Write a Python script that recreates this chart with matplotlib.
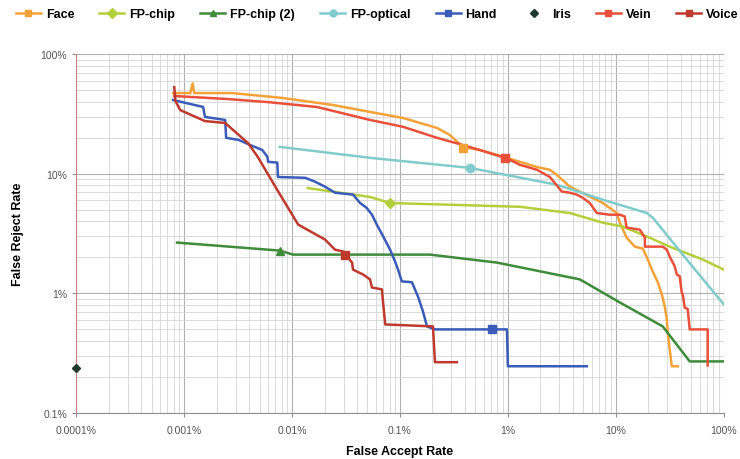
import matplotlib
matplotlib.use("Agg")
import matplotlib.pyplot as plt
from matplotlib.ticker import LogLocator, FixedLocator, FuncFormatter, NullFormatter

plt.rcParams['font.family'] = ['Liberation Sans', 'DejaVu Sans']

# values in percent
x_ticks = [0.0001, 0.001, 0.01, 0.1, 1, 10, 100]
y_ticks = [0.1, 1, 10, 100]

face_far = [0.00079, 0.00114, 0.0012, 0.00124, 0.0028, 0.0083, 0.024, 0.0528, 0.107, 0.22,
            0.29, 0.383, 0.55, 0.90, 1.86, 2.45, 2.84, 3.75, 7.59, 10.2,
            10.9, 12.6, 15.0, 17.8, 19.8, 22.0, 24.5, 26.7, 28.4, 29.7,
            30.3, 31.6, 33.0, 37.5]
face_frr = [47.3, 47.3, 57, 47.3, 47.3, 43, 37.6, 32.9, 29.3, 24.2,
            21.1, 16.8, 15.8, 13.9, 11.4, 10.8, 9.8, 7.8, 5.7, 4.7,
            3.9, 2.93, 2.46, 2.37, 1.92, 1.52, 1.24, 0.98, 0.78, 0.61,
            0.47, 0.34, 0.246, 0.246]

fpchip_far = [0.014, 0.0528, 0.081, 1.29, 3.75, 7.59, 11.6, 19.4, 31.6, 64, 100]
fpchip_frr = [7.6, 6.4, 5.7, 5.3, 4.7, 3.9, 3.62, 2.99, 2.46, 1.92, 1.58]

fpchip2_far = [0.00086, 0.0077, 0.0102, 0.19, 0.79, 4.64, 10.9, 27.2, 48.4, 100]
fpchip2_frr = [2.66, 2.28, 2.11, 2.11, 1.81, 1.31, 0.84, 0.53, 0.27, 0.27]

fpopt_far = [0.0077, 0.0528, 0.445, 2.84, 7.59, 19.4, 22.0, 45.4, 100]
fpopt_frr = [16.8, 13.6, 11.2, 8.1, 6.07, 4.7, 4.3, 1.92, 0.81]

hand_far = [0.00079, 0.0015, 0.00156, 0.0024, 0.00245, 0.0032, 0.0041, 0.0053, 0.0059, 0.006,
            0.0073, 0.0074, 0.0132, 0.0163, 0.0202, 0.025, 0.0367, 0.0427, 0.049, 0.055,
            0.061, 0.070, 0.081, 0.090, 0.096, 0.104, 0.129, 0.147, 0.163, 0.178,
            0.211, 0.98, 1.0, 5.38]
hand_frr = [41.4, 36.2, 29.9, 28.2, 20.0, 19.2, 17.4, 15.8, 13.9, 12.6,
            12.4, 9.4, 9.26, 8.6, 7.8, 6.95, 6.7, 5.7, 5.2, 4.55,
            3.76, 2.99, 2.32, 1.85, 1.58, 1.26, 1.24, 0.94, 0.71, 0.53,
            0.50, 0.50, 0.246, 0.246]

iris_far = [0.0001]
iris_frr = [0.24]

vein_far = [0.00081, 0.0025, 0.0059, 0.017, 0.0528, 0.107, 0.22, 0.383, 0.55, 0.94,
            1.04, 1.29, 1.86, 2.45, 3.16, 3.75, 4.35, 4.94, 5.74, 6.67,
            8.8, 10.9, 12.1, 12.6, 16.7, 18.6, 18.6, 27.2, 29.7, 31.6,
            35.2, 36.7, 39.1, 40.8, 41.7, 43.5, 46.4, 48.4, 71, 71]
vein_frr = [44.7, 42.2, 39.8, 36.2, 28.2, 24.7, 20, 17.4, 15.8, 13.6,
            13.1, 11.9, 10.8, 9.4, 7.1, 6.95, 6.7, 6.3, 5.7, 4.7,
            4.55, 4.55, 4.4, 3.55, 3.41, 2.93, 2.46, 2.46, 2.32, 2.03,
            1.68, 1.44, 1.39, 1.02, 0.98, 0.76, 0.74, 0.50, 0.50, 0.25]

voice_far = [0.00081, 0.00083, 0.00092, 0.00156, 0.0024, 0.0039, 0.0048, 0.0070, 0.0114, 0.0202,
             0.025, 0.0297, 0.0323, 0.036, 0.0367, 0.0454, 0.0528, 0.055, 0.068, 0.070,
             0.073, 0.202, 0.211, 0.337]
voice_frr = [53, 40.6, 34.1, 27.6, 26.6, 18.1, 13.9, 7.8, 3.76, 2.82,
             2.32, 2.24, 2.03, 1.81, 1.58, 1.44, 1.31, 1.12, 1.08, 0.81,
             0.55, 0.53, 0.266, 0.266]

# one highlighted marker per curve: (far, frr)
face_mark = (0.383, 16.5)
fpchip_mark = (0.081, 5.7)
fpchip2_mark = (0.0077, 2.28)
fpopt_mark = (0.445, 11.2)
hand_mark = (0.71, 0.50)
vein_mark = (0.94, 13.6)
voice_mark = (0.031, 2.11)

series = [
    ("Face", face_far, face_frr, face_mark, "#f4a238", "s"),
    ("FP-chip", fpchip_far, fpchip_frr, fpchip_mark, "#b4cf3c", "D"),
    ("FP-chip (2)", fpchip2_far, fpchip2_frr, fpchip2_mark, "#3e8c3a", "^"),
    ("FP-optical", fpopt_far, fpopt_frr, fpopt_mark, "#80cccc", "o"),
    ("Hand", hand_far, hand_frr, hand_mark, "#3a5cb8", "s"),
    ("Iris", iris_far, iris_frr, None, "#1f3a2c", "D"),
    ("Vein", vein_far, vein_frr, vein_mark, "#e8503a", "s"),
    ("Voice", voice_far, voice_frr, voice_mark, "#be3a2e", "s"),
]

fig = plt.figure(figsize=(7.4, 4.6), dpi=100)
ax = fig.add_axes([0.103, 0.10, 0.875, 0.78])

handles = []
for name, xs, ys, mark, col, m in series:
    if name == "Iris":
        ax.plot(xs, ys, linestyle="none", marker=m, ms=4.5, color=col, zorder=5, clip_on=False)
        h, = ax.plot([], [], linestyle="none", marker=m, ms=4, color=col)
    else:
        ax.plot(xs, ys, color=col, lw=1.8, zorder=3)
        ms = 5 if m == "D" else 6
        ax.plot([mark[0]], [mark[1]], linestyle="none", marker=m, ms=ms, color=col,
                markeredgecolor=col, zorder=4)
        h, = ax.plot([], [], color=col, lw=1.8, marker=m, ms=5)
    handles.append((h, name))

ax.set_xscale("log")
ax.set_yscale("log")
ax.set_xlim(1e-4, 100)
ax.set_ylim(0.1, 100)

pct = FuncFormatter(lambda v, p: f"{v:g}%")
ax.xaxis.set_major_locator(FixedLocator(x_ticks))
ax.yaxis.set_major_locator(FixedLocator(y_ticks))
ax.xaxis.set_minor_locator(LogLocator(base=10, subs=range(2, 10), numticks=12))
ax.yaxis.set_minor_locator(LogLocator(base=10, subs=range(2, 10), numticks=12))
ax.xaxis.set_major_formatter(pct)
ax.yaxis.set_major_formatter(pct)
ax.xaxis.set_minor_formatter(NullFormatter())
ax.yaxis.set_minor_formatter(NullFormatter())

ax.grid(True, which="major", color="#b0b0b0", lw=0.8)
ax.grid(True, which="minor", color="#d4d4d4", lw=0.6)
ax.set_axisbelow(True)

for s in ["top", "right"]:
    ax.spines[s].set_visible(False)
ax.spines["left"].set_color("#c88080")
ax.spines["bottom"].set_color("#909090")
ax.tick_params(which="major", length=3, color="#909090", labelsize=7.5, labelcolor="#555555")
ax.tick_params(axis="x", pad=6)
ax.tick_params(which="minor", length=0)

ax.set_xlabel("False Accept Rate", fontsize=9, fontweight="bold", labelpad=7)
ax.set_ylabel("False Reject Rate", fontsize=9, fontweight="bold", labelpad=12)

fig.legend([h for h, _ in handles], [n for _, n in handles], loc="upper center",
           bbox_to_anchor=(0.51, 1.005), ncol=8, frameon=False,
           handlelength=2.0, handletextpad=0.4, columnspacing=2.0,
           prop={"weight": "bold", "size": 9})

fig.savefig("out.png", dpi=100)
